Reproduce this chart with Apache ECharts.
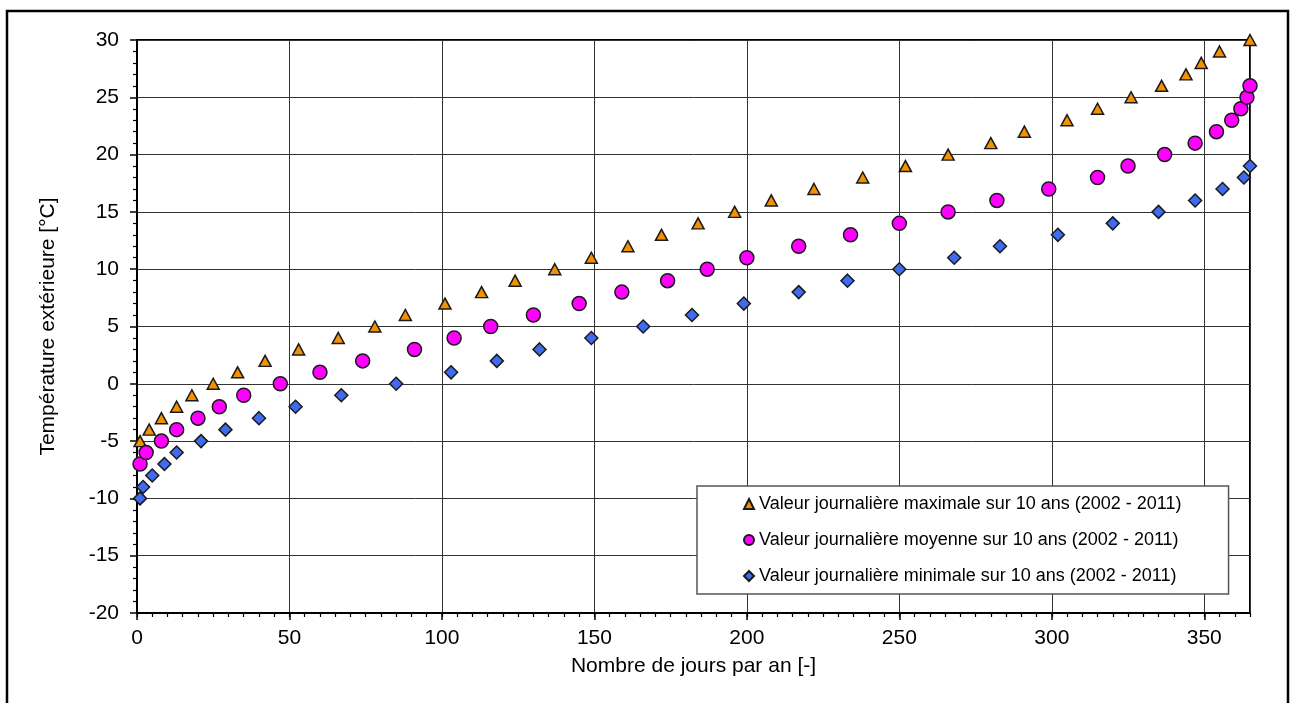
<!DOCTYPE html>
<html>
<head>
<meta charset="utf-8">
<script src="https://cdn.jsdelivr.net/npm/echarts@6/dist/echarts.min.js"></script>
<style>
html,body{margin:0;padding:0;background:#fff;}
#chart{width:1290px;height:703px;}
</style>
</head>
<body>
<div id="chart"></div>
<script>
// ---- Data ----
const maxDays  = [1,4,8,13,18,25,33,42,53,66,78,88,101,113,124,137,149,161,172,184,196,208,222,238,252,266,280,291,305,315,326,336,344,349,355,365];
const maxTemps = [-5,-4,-3,-2,-1,0,1,2,3,4,5,6,7,8,9,10,11,12,13,14,15,16,17,18,19,20,21,22,23,24,25,26,27,28,29,30];

const meanDays  = [1,3,8,13,20,27,35,47,60,74,91,104,116,130,145,159,174,187,200,217,234,250,266,282,299,315,325,337,347,354,359,362,364,365];
const meanTemps = [-7,-6,-5,-4,-3,-2,-1,0,1,2,3,4,5,6,7,8,9,10,11,12,13,14,15,16,17,18,19,20,21,22,23,24,25,26];

const minDays  = [1,2,5,9,13,21,29,40,52,67,85,103,118,132,149,166,182,199,217,233,250,268,283,302,320,335,347,356,363,365];
const minTemps = [-10,-9,-8,-7,-6,-5,-4,-3,-2,-1,0,1,2,3,4,5,6,7,8,9,10,11,12,13,14,15,16,17,18,19];

const seriesNames = [
  'Valeur journalière maximale sur 10 ans (2002 - 2011)',
  'Valeur journalière moyenne sur 10 ans (2002 - 2011)',
  'Valeur journalière minimale sur 10 ans (2002 - 2011)'
];
const xTitle = 'Nombre de jours par an [-]';
const yTitle = 'Température extérieure [°C]';

function zip(xs, ys){ return xs.map((x,i)=>[x, ys[i]]); }

const FONT = "'Liberation Sans', Arial, Helvetica, sans-serif";
const chart = echarts.init(document.getElementById('chart'), null, {renderer:'canvas'});

const option = {
  backgroundColor: '#fff',
  animation: false,
  textStyle: {fontFamily: FONT, color: '#000'},
  graphic: [{
    type: 'rect',
    silent: true,
    z: 100,
    shape: {x: 7, y: 11, width: 1281, height: 720},
    style: {fill: null, stroke: '#000', lineWidth: 2.5}
  }],
  grid: {
    left: 137, top: 40, right: 40, bottom: 90,
    show: true, borderColor: '#000', borderWidth: 2, backgroundColor: 'transparent'
  },
  legend: {
    orient: 'vertical',
    left: 697, top: 486,
    padding: [8, 47, 8, 46],
    itemWidth: 10, itemHeight: 10,
    itemGap: 16,
    backgroundColor: '#fff',
    borderColor: '#555', borderWidth: 1.5,
    textStyle: {fontFamily: FONT, fontSize: 18, color: '#000', lineHeight: 20},
    data: [
      {name: seriesNames[0], icon: 'triangle'},
      {name: seriesNames[1], icon: 'circle'},
      {name: seriesNames[2], icon: 'diamond'}
    ]
  },
  xAxis: [{
    type: 'value', min: 0, max: 365, interval: 50,
    name: xTitle, nameLocation: 'middle', nameGap: 43,
    nameTextStyle: {fontFamily: FONT, fontSize: 21, color: '#000'},
    axisLine: {show: true, onZero: false, lineStyle: {color: '#000', width: 2}},
    axisTick: {show: true, length: 7, lineStyle: {color: '#000', width: 1.5}},
    axisLabel: {fontFamily: FONT, fontSize: 21, color: '#000', margin: 15, showMaxLabel: false},
    splitLine: {show: true, lineStyle: {color: '#333', width: 1}}
  }, {
    type: 'value', min: 0, max: 365, interval: 5, position: 'bottom',
    axisLine: {show: false, onZero: false},
    axisTick: {show: true, length: 4, lineStyle: {color: '#000', width: 1.2}},
    axisLabel: {show: false},
    splitLine: {show: false}
  }],
  yAxis: {
    type: 'value', min: -20, max: 30, interval: 5,
    name: yTitle, nameLocation: 'middle', nameGap: 78,
    nameTextStyle: {fontFamily: FONT, fontSize: 21, color: '#000'},
    axisLine: {show: true, onZero: false, lineStyle: {color: '#000', width: 2}},
    axisTick: {show: true, length: 7, lineStyle: {color: '#000', width: 1.5}},
    minorTick: {show: true, splitNumber: 5, length: 4, lineStyle: {color: '#000', width: 1.2}},
    axisLabel: {fontFamily: FONT, fontSize: 21, color: '#000', margin: 18},
    splitLine: {show: true, lineStyle: {color: '#333', width: 1}}
  },
  series: [{
    name: seriesNames[0], type: 'scatter', xAxisIndex: 0,
    symbol: 'triangle', symbolSize: [12, 11],
    itemStyle: {color: '#F39200', borderColor: '#1a1a1a', borderWidth: 1.5, opacity: 1},
    data: zip(maxDays, maxTemps), clip: false
  }, {
    name: seriesNames[1], type: 'scatter', xAxisIndex: 0,
    symbol: 'circle', symbolSize: 14,
    itemStyle: {color: '#FF00FF', borderColor: '#1a1a1a', borderWidth: 1.5, opacity: 1},
    data: zip(meanDays, meanTemps), clip: false
  }, {
    name: seriesNames[2], type: 'scatter', xAxisIndex: 0,
    symbol: 'diamond', symbolSize: 13,
    itemStyle: {color: '#3F6BEF', borderColor: '#1a1a1a', borderWidth: 1.5, opacity: 1},
    data: zip(minDays, minTemps), clip: false
  }]
};
chart.setOption(option);
</script>
</body>
</html>
